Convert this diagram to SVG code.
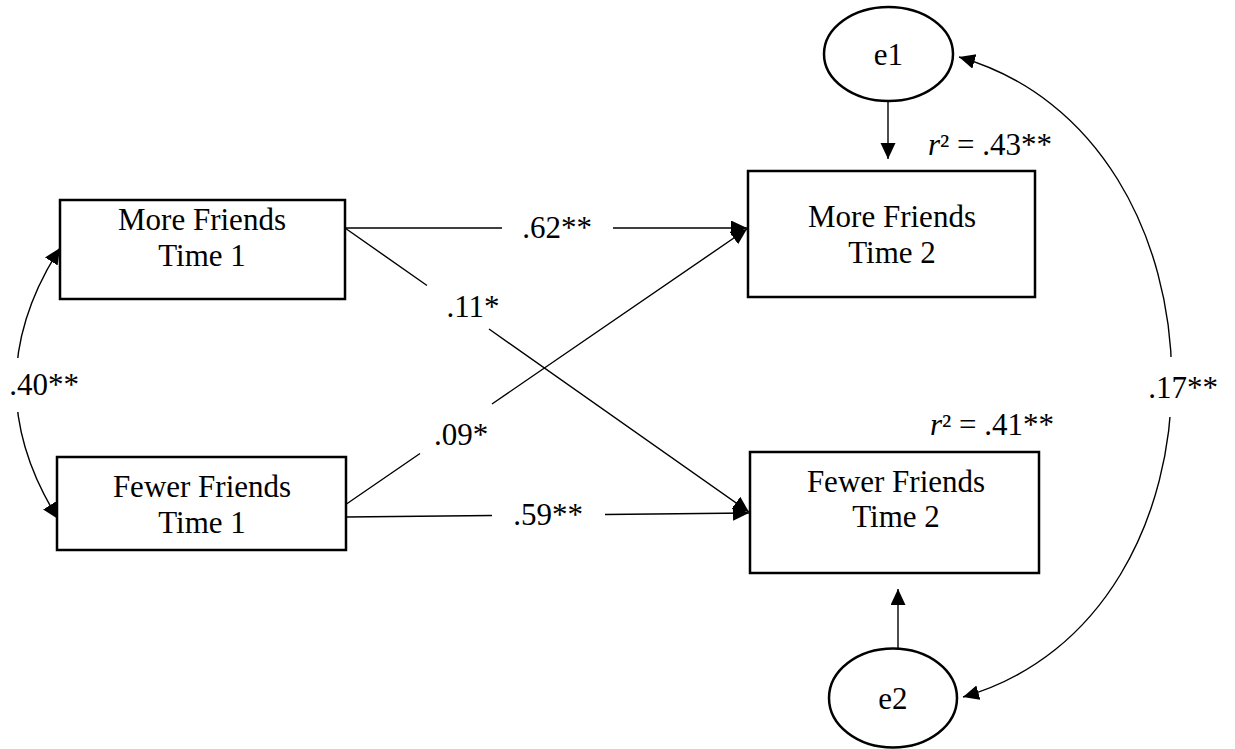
<svg xmlns="http://www.w3.org/2000/svg" width="1235" height="749" viewBox="0 0 1235 749">
<style>
.box{fill:#fff;stroke:#000;stroke-width:2.5}
.ell{fill:#fff;stroke:#000;stroke-width:2.5}
.t{font-family:"Liberation Serif","Times New Roman",serif;font-size:31px;fill:#000;text-anchor:middle}
.lab{font-family:"Liberation Serif","Times New Roman",serif;font-size:31px;fill:#000;text-anchor:middle}
.r2{font-family:"Liberation Serif","Times New Roman",serif;font-size:31px;fill:#000}
.c{fill:none;stroke:#000;stroke-width:1.4}
</style>
<defs>
<marker id="ah" markerUnits="userSpaceOnUse" markerWidth="17" markerHeight="16" refX="16" refY="7.5" orient="auto">
<path d="M0,0 L16,7.5 L0,15 Z" fill="#000"/>
</marker>
<marker id="ahs" markerUnits="userSpaceOnUse" markerWidth="17" markerHeight="16" refX="16" refY="7.5" orient="auto-start-reverse">
<path d="M0,0 L16,7.5 L0,15 Z" fill="#000"/>
</marker>
</defs>
<rect width="1235" height="749" fill="#fff"/>

<g id="connectors">
<path class="c" d="M345,228 L502,228 M613,228 L747,228" marker-end="url(#ah)"/>
<path class="c" d="M345,228 L427,285.5 M489,329 L749,512" marker-end="url(#ah)"/>
<path class="c" d="M345,505 L420,453.5 M492,404 L747,229" marker-end="url(#ah)"/>
<path class="c" d="M346,517 L492,515.5 M605,514.5 L749,513" marker-end="url(#ah)"/>
<path class="c" d="M888,101 L888,159" marker-end="url(#ah)"/>
<path class="c" d="M898,648 L898,589" marker-end="url(#ah)"/>
<path class="c" d="M60,248 Q-27,383 58,519" marker-start="url(#ahs)" marker-end="url(#ahs)"/>
<rect x="6" y="358" width="76" height="54" fill="#fff"/>
<path class="c" d="M959,57 C1240,137 1244,617 963,697" marker-start="url(#ahs)" marker-end="url(#ahs)"/>
<rect x="1140" y="357" width="84" height="60" fill="#fff"/>
<text class="lab" x="557" y="238">.62**</text>
<text class="lab" x="473" y="317">.11*</text>
<text class="lab" x="461" y="445">.09*</text>
<text class="lab" x="548" y="525">.59**</text>
<text class="lab" x="44" y="395">.40**</text>
<text class="lab" x="1183" y="398">.17**</text>
</g>

<g id="mf1">
<rect class="box" x="60" y="200" width="285" height="99"/>
<text class="t" x="202" y="230">More Friends</text>
<text class="t" x="202" y="266">Time 1</text>
</g>
<g id="ff1">
<rect class="box" x="57" y="457" width="289" height="93"/>
<text class="t" x="202" y="497">Fewer Friends</text>
<text class="t" x="202" y="533">Time 1</text>
</g>
<g id="mf2">
<rect class="box" x="748" y="171" width="287" height="126"/>
<text class="t" x="892" y="227">More Friends</text>
<text class="t" x="892" y="263">Time 2</text>
<text class="r2" x="928" y="155"><tspan font-style="italic">r</tspan>² = .43**</text>
</g>
<g id="ff2">
<rect class="box" x="750" y="452" width="289" height="121"/>
<text class="t" x="896" y="492">Fewer Friends</text>
<text class="t" x="896" y="527">Time 2</text>
<text class="r2" x="930" y="435"><tspan font-style="italic">r</tspan>² = .41**</text>
</g>
<g id="e1">
<ellipse class="ell" cx="888.5" cy="54" rx="64.5" ry="47"/>
<text class="t" x="888.5" y="65">e1</text>
</g>
<g id="e2">
<ellipse class="ell" cx="893" cy="698" rx="64" ry="49.5"/>
<text class="t" x="893" y="709">e2</text>
</g>
</svg>
